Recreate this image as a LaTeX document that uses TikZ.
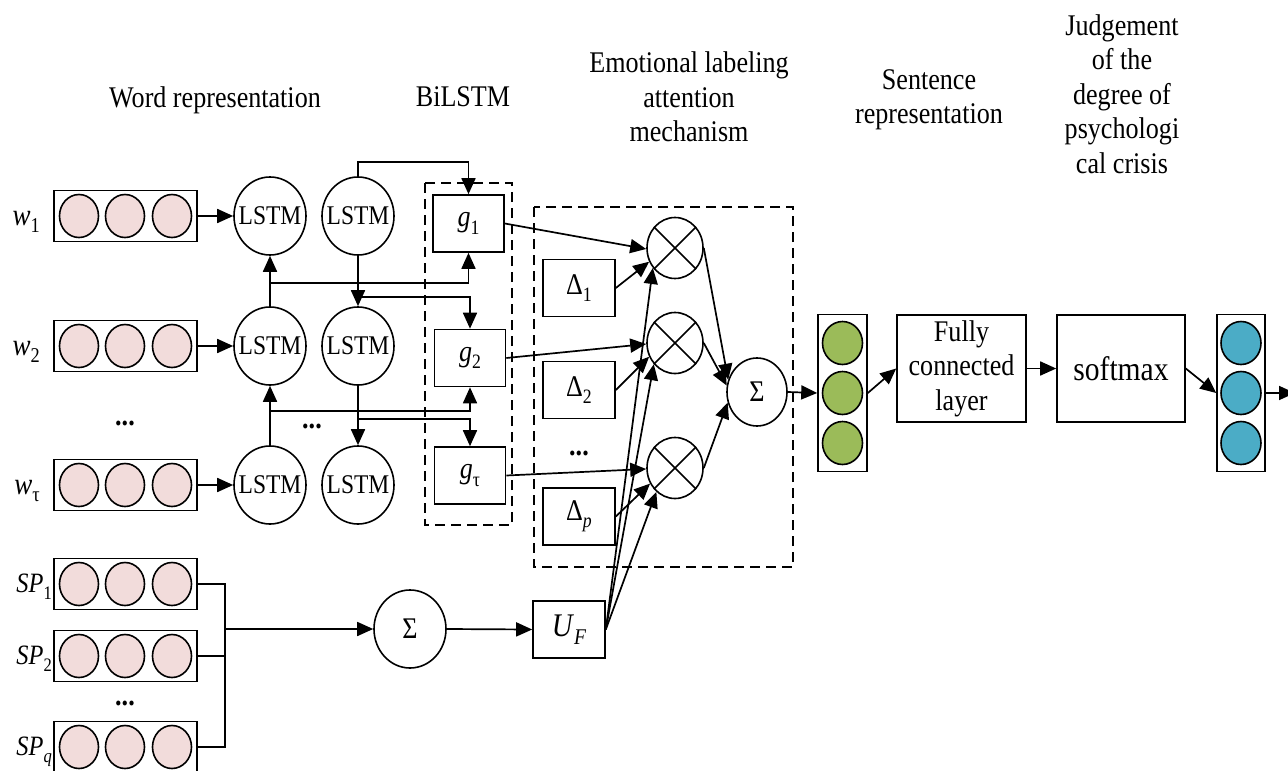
\documentclass[tikz,border=0pt]{standalone}
\usepackage{fontspec}
\setmainfont{Liberation Serif}[FakeStretch=0.87]
\usepackage{graphicx}
\usetikzlibrary{arrows.meta,shapes.geometric}
\newcommand{\lsub}[1]{\raisebox{-0.25em}{\scalebox{0.68}{#1}}}
\definecolor{pinkc}{HTML}{F2DCDB}
\definecolor{greenc}{HTML}{9BBB59}
\definecolor{bluec}{HTML}{4BACC6}
\tikzset{
  ln/.style={line width=1.7pt},
  arr/.style={line width=1.7pt,-{Triangle[length=16pt,width=14pt]}},
  dsh/.style={line width=1.6pt,dash pattern=on 10pt off 6pt},
  lstm/.style={ellipse,draw,line width=1.6pt,minimum width=72pt,minimum height=78pt,inner sep=0pt},
  sbox/.style={rectangle,draw,line width=1.6pt,minimum width=71pt,minimum height=57pt,inner sep=0pt,font=\fontsize{30}{32}\selectfont},
  vecbox/.style={rectangle,draw,line width=1.6pt,minimum width=143pt,minimum height=51pt,inner sep=0pt},
  colbox/.style={rectangle,draw,line width=1.6pt,minimum width=49pt,minimum height=157pt,inner sep=0pt},
  bead/.style={ellipse,draw,line width=1.6pt,minimum width=39pt,minimum height=43pt,inner sep=0pt},
  otim/.style={ellipse,draw,line width=1.6pt,minimum width=56pt,minimum height=61pt,inner sep=0pt},
  lbl/.style={font=\fontsize{31}{31}\selectfont},
  ttl/.style={align=center,font=\fontsize{30}{34.5}\selectfont},
  dots/.style={font=\fontsize{30}{30}\selectfont\bfseries,inner sep=0pt},
  bigbox/.style={rectangle,draw,line width=1.6pt,minimum width=129pt,minimum height=107pt,inner sep=0pt,align=center},
  ctext/.style={label={[font=\fontsize{27}{30}\selectfont,inner sep=0pt]center:#1}},
  csig/.style={label={[font=\fontsize{30}{30}\selectfont,inner sep=0pt]center:#1}},
}
\begin{document}
\begin{tikzpicture}[x=1pt,y=-1pt]
\useasboundingbox (0,0) rectangle (1288,771);

% titles
\node[ttl] (t1) at (215,100) {Word representation};
\node[ttl] (t2) at (463,97) {BiLSTM};
\node[ttl] (t3) at (689,97) {Emotional labeling\\attention\\mechanism};
\node[ttl] (t4) at (929,100) {Sentence\\representation};
\node[ttl] (t5) at (1122,94) {Judgement\\of the\\degree of\\psychologi\\cal crisis};

% word rows
\foreach \r/\y/\lab in {1/216/1, 2/346/2, 3/485/{\textup{τ}}} {
  \node[vecbox] (wb\r) at (125.5,\y) {};
  \foreach \cx in {79,125,172} \node[bead,fill=pinkc] at (\cx,\y) {};
  \node[lbl,anchor=base east,inner sep=0pt] (wl\r) at (40,\y+9) {\textit{w}\lsub{\lab}};
  \node[lstm,ctext=LSTM] (fa\r) at (270,\y) {};
  \node[lstm,ctext=LSTM] (ba\r) at (358,\y) {};
  \draw[arr] (wb\r) -- (fa\r);
}
\node[dots] (wd) at (125,423) {...};
\node[dots] (ld) at (312,426) {...};

% BiLSTM box
\draw[dsh] (425,183) rectangle (512,525);
\node[sbox] (g1) at (468.5,223.5) {\textit{g}\lsub{1}};
\node[sbox] (g2) at (470,358) {\textit{g}\lsub{2}};
\node[sbox] (gt) at (470,475.5) {\textit{g}\lsub{\textup{τ}}};

\draw[arr] (ba1.north) -- ++(0,-14) -| (g1.north);
\draw[arr] (fa2.north) -- (fa1.south);
\draw[arr] (fa2.north |- 0,283) -| (g1.south);
\draw[arr] (ba1.south) -- (ba2.north);
\draw[arr] (ba1.south |- 0,297) -| (g2.north);
\draw[arr] (fa3.north) -- (fa2.south);
\draw[arr] (fa3.north |- 0,411) -| (g2.south);
\draw[arr] (ba2.south) -- (ba3.north);
\draw[arr] (ba2.south |- 0,419) -| (gt.north);

% attention box
\draw[dsh] (534,207) rectangle (793,567);
\node[sbox,minimum width=72pt] (d1) at (579,288) {Δ\lsub{1}};
\node[sbox,minimum width=72pt] (d2) at (579,390) {Δ\lsub{2}};
\node[sbox,minimum width=72pt] (dp) at (579,516.5) {Δ\lsub{\textit{p}}};
\node[dots] (ad) at (579,453) {...};

\foreach \n/\y in {o1/248, o2/343, o3/468} {
  \node[otim] (\n) at (675,\y) {};
  \draw[ln] (\n.45) -- (\n.225) (\n.135) -- (\n.315);
}
\node[otim,minimum width=60pt,minimum height=68pt,csig=Σ] (s1) at (757,392) {};

% bottom SP rows
\foreach \r/\y/\lab in {1/584/1, 2/656/2, 3/747/{\textit{q}}} {
  \node[vecbox] (sp\r) at (125.5,\y) {};
  \foreach \cx in {79,125,172} \node[bead,fill=pinkc] at (\cx,\y) {};
  \node[font=\fontsize{28}{30}\selectfont,anchor=base east,inner sep=0pt] (spl\r) at (52,\y+8) {\textit{SP}\lsub{\lab}};
}
\node[dots] (sd) at (125,703) {...};
\coordinate (vt) at (225,584);
\coordinate (vb) at (225,747);
\node[lstm,csig=Σ] (s2) at (410,629) {};
\node[sbox,minimum width=72pt,font=\fontsize{33}{34}\selectfont] (uf) at (569,629.5) {\textit{U}\lsub{\textit{F}}};
\draw[ln] (sp1.east) -- (vt) -- (vb) -- (sp3.east);
\draw[ln] (sp2.east) -- (sp2.east -| vt);
\draw[arr] (vt |- s2.west) -- (s2.west);
\draw[arr] (s2.east) -- (uf.west);

% attention arrows
\draw[arr] (g1.east) -- (o1.182);
\draw[arr] (d1.east) -- (o1.208);
\draw[arr] (g2.east) -- (o2.182);
\draw[arr] (d2.east) -- (o2.208);
\draw[arr] (gt.east) -- (o3.182);
\draw[arr] (dp.east) -- (o3.212);
\draw[arr] (uf.east) -- (o1.222);
\draw[arr] (uf.east) -- (o2.225);
\draw[arr] (uf.east) -- (o3.232);
\draw[arr] (o1.east) -- (s1.157);
\draw[arr] (o2.east) -- (s1.168);
\draw[arr] (o3.east) -- (s1.200);

% right part
\node[colbox] (gv) at (842.5,393) {};
\foreach \cy in {343,393,443} \node[bead,fill=greenc,minimum width=40pt] at (842.5,\cy) {};
\draw[arr] (s1.east) -- (gv.west);
\node[bigbox,font=\fontsize{30}{34.5}\selectfont] (fc) at (961.5,368.5) {Fully\\connected\\layer};
\node[bigbox,minimum width=128pt,font=\fontsize{34}{36}\selectfont] (sm) at (1121,368.5) {softmax};
\node[colbox,minimum width=48pt] (bv) at (1241,393) {};
\foreach \cy in {343,393,443} \node[bead,fill=bluec,minimum width=40pt] at (1241,\cy) {};
\coordinate (out) at (1295,393);
\draw[arr] (gv.east) -- (fc.west);
\draw[arr] (fc.east) -- (sm.west);
\draw[arr] (sm.east) -- (bv.west);
\draw[arr] (bv.east) -- (out);
\end{tikzpicture}
\end{document}
